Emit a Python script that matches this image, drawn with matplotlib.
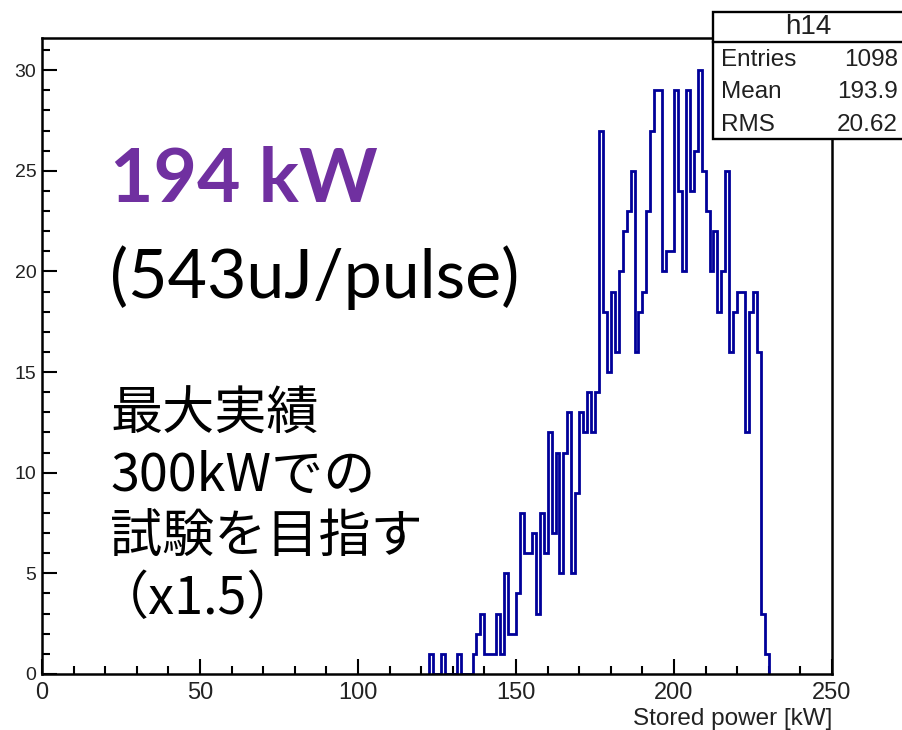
import numpy as np
import matplotlib
matplotlib.use("Agg")
import matplotlib.pyplot as plt
from matplotlib.patches import Rectangle
from matplotlib.ticker import MultipleLocator

W, H = 903, 730

# h14: stored power histogram, 1.25 kW bins, first filled bin starts at 122.5 kW
bin_width = 1.25
hist_start = 122.5
counts = [1, 0, 0, 1, 0, 0, 0, 1, 0, 0, 0, 1, 2, 3, 1, 1, 1, 3, 1, 5,
          2, 2, 4, 8, 6, 6, 7, 3, 8, 6, 12, 7, 11, 5, 11, 13, 5, 9, 13, 12,
          14, 12, 14, 27, 18, 15, 19, 16, 20, 22, 23, 25, 16, 18, 19, 23, 27, 29, 29, 20,
          21, 21, 29, 24, 20, 29, 24, 26, 30, 25, 23, 20, 22, 18, 20, 25, 16, 18, 19, 19,
          12, 18, 19, 16, 3, 1]

stat_names = ["Entries", "Mean", "RMS"]
stat_values = ["1098", "193.9", "20.62"]

x_label = "Stored power [kW]"
power_text = "194 kW"
pulse_text = "(543uJ/pulse)"
note_lines = ["最大実績", "300kWでの", "試験を目指す", "（x1.5）"]

edges = hist_start + bin_width * np.arange(len(counts) + 1)


def fx(px):
    return px / W


def fy(py):
    return 1 - py / H


fig = plt.figure(figsize=(W / 100, H / 100), dpi=100)
ax = fig.add_axes([fx(42), fy(674), (832 - 42) / W, (674 - 38) / H])
ax.stairs(counts, edges, baseline=0, color="#000099", lw=2.0, zorder=2)

ax.set_xlim(0, 250)
ax.set_ylim(0, 31.6)
ax.xaxis.set_major_locator(MultipleLocator(50))
ax.xaxis.set_minor_locator(MultipleLocator(10))
ax.yaxis.set_major_locator(MultipleLocator(5))
ax.yaxis.set_minor_locator(MultipleLocator(1))
ax.tick_params(which="both", direction="in", top=False, right=False,
               width=1.5, color="black", labelcolor="#222222")
ax.tick_params(which="major", length=11)
ax.tick_params(which="minor", length=6)
ax.tick_params(axis="x", which="major", pad=6, labelsize=17)
ax.tick_params(axis="y", which="major", pad=4, labelsize=14)
for lab in ax.get_xticklabels() + ax.get_yticklabels():
    lab.set_family("Liberation Sans")
for s in ax.spines.values():
    s.set_linewidth(1.8)
    s.set_zorder(3)
ax.set_xlabel(x_label, loc="right", fontsize=17.5, family="Liberation Sans",
              color="#222222", labelpad=3)

# stats box in the top right corner
fig.add_artist(Rectangle((fx(713), fy(139)), (910 - 713) / W, (139 - 12) / H,
                         transform=fig.transFigure, facecolor="white",
                         edgecolor="black", lw=1.7, zorder=5))
fig.add_artist(plt.Line2D([fx(713), fx(910)], [fy(42), fy(42)],
                          transform=fig.transFigure, color="black", lw=1.7, zorder=6))
fig.text(fx(808), fy(27), "h14", ha="center", va="center", fontsize=20,
         family="Liberation Sans", color="#202020", zorder=7)
for i, (name, val) in enumerate(zip(stat_names, stat_values)):
    yy = fy(60 + i * 32.5)
    fig.text(fx(721), yy, name, ha="left", va="center", fontsize=17.5,
             family="Liberation Sans", color="#202020", zorder=7)
    fig.text(fx(898), yy, val, ha="right", va="center", fontsize=17.5,
             family="Liberation Sans", color="#202020", zorder=7)

# annotations
fig.text(fx(110), fy(180), power_text, ha="left", va="center", fontsize=54,
         fontweight="bold", family=["Lato", "DejaVu Sans"], color="#7030A0")
fig.text(fx(110), fy(278), pulse_text, ha="left", va="center", fontsize=49,
         family=["Lato", "DejaVu Sans"], color="black")
note_x = [110, 110, 110, 97]
for i, line in enumerate(note_lines):
    fig.text(fx(note_x[i]), fy(415 + i * 61.5), line, ha="left", va="center",
             fontsize=37.5, family=["Noto Sans CJK JP", "DejaVu Sans"], color="black")

fig.savefig("out.png", dpi=100, facecolor="white")
